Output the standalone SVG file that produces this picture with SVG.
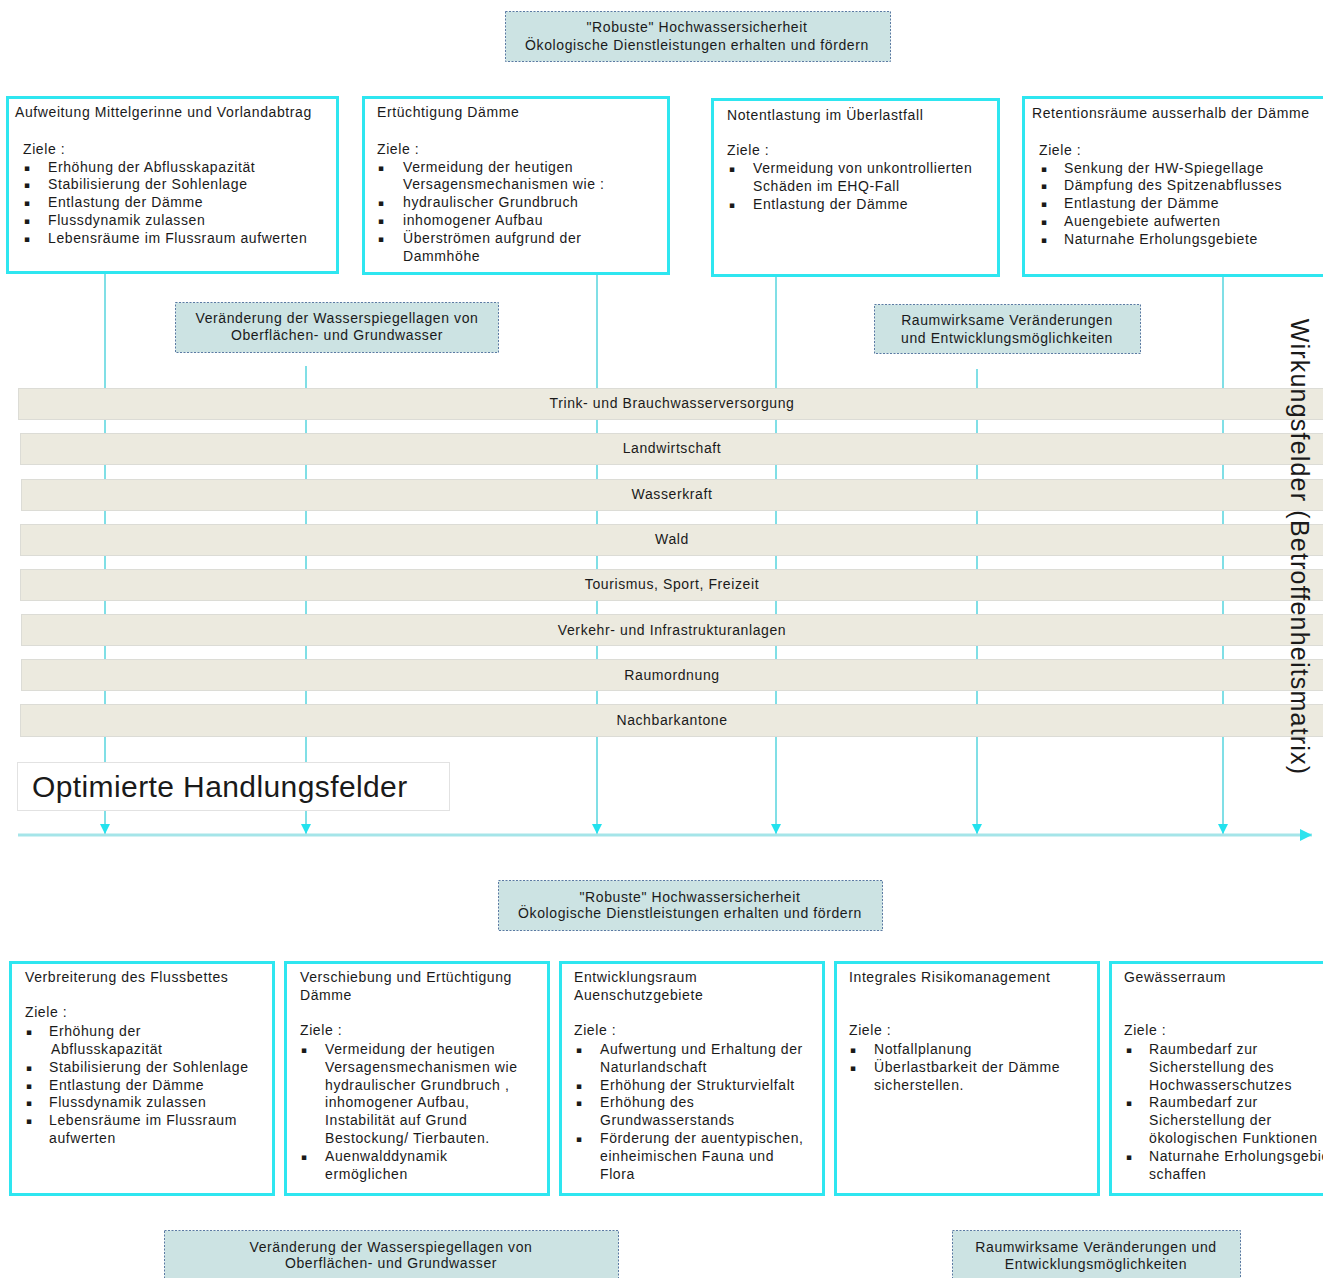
<svg xmlns="http://www.w3.org/2000/svg" width="1323" height="1278" viewBox="0 0 1323 1278">
<style>
.t{font-family:"Liberation Sans",Arial,sans-serif;font-size:14px;letter-spacing:0.6px;fill:#1a1a1a}
.c{text-anchor:middle}
.b{font-family:"DejaVu Sans","Liberation Sans",sans-serif;font-size:9px;fill:#1a1a1a}
.box{fill:#fff;stroke:#2ee6f0;stroke-width:3}
.lbl{fill:#cce3e3;stroke:#5b7aa3;stroke-width:1;stroke-dasharray:2 1.5}
.row{fill:#eceadf;stroke:#dcdcd6;stroke-width:1}
.conn{stroke:#80dfe6;stroke-width:2;fill:none}
</style>
<defs>
<marker id="ah" markerUnits="userSpaceOnUse" markerWidth="12" markerHeight="12" refX="10" refY="5" orient="auto"><path d="M0,0 L10,5 L0,10 z" fill="#22e2ee"/></marker>
<marker id="ah2" markerUnits="userSpaceOnUse" markerWidth="14" markerHeight="14" refX="12" refY="6" orient="auto"><path d="M0,0 L12,6 L0,12 z" fill="#2de3ee"/></marker>
</defs>
<rect width="1323" height="1278" fill="#fff"/>

<g id="connectors">
<line class="conn" x1="105" y1="273" x2="105" y2="834" marker-end="url(#ah)"/>
<line class="conn" x1="306" y1="366" x2="306" y2="834" marker-end="url(#ah)"/>
<line class="conn" x1="597" y1="273" x2="597" y2="834" marker-end="url(#ah)"/>
<line class="conn" x1="776" y1="275" x2="776" y2="834" marker-end="url(#ah)"/>
<line class="conn" x1="977" y1="369" x2="977" y2="834" marker-end="url(#ah)"/>
<line class="conn" x1="1223" y1="275" x2="1223" y2="834" marker-end="url(#ah)"/>
<line x1="18" y1="835" x2="1312" y2="835" stroke="#a5e5e9" stroke-width="3" marker-end="url(#ah2)"/>
</g>

<g id="goal-top">
<rect class="lbl" x="505.5" y="11.5" width="385" height="50"/>
<text class="t c" x="697" y="32">"Robuste" Hochwassersicherheit</text>
<text class="t c" x="697" y="50">Ökologische Dienstleistungen erhalten und fördern</text>
</g>

<g id="box-aufweitung">
<rect class="box" x="7.5" y="97.5" width="330" height="175"/>
<text class="t" x="15" y="117">Aufweitung Mittelgerinne und Vorlandabtrag</text>
<text class="t" x="23" y="154">Ziele :</text>
<text class="b" x="24" y="171">▪</text><text class="t" x="48" y="172">Erhöhung der Abflusskapazität</text>
<text class="b" x="24" y="188">▪</text><text class="t" x="48" y="189">Stabilisierung der Sohlenlage</text>
<text class="b" x="24" y="206">▪</text><text class="t" x="48" y="207">Entlastung der Dämme</text>
<text class="b" x="24" y="224">▪</text><text class="t" x="48" y="225">Flussdynamik zulassen</text>
<text class="b" x="24" y="242">▪</text><text class="t" x="48" y="243">Lebensräume im Flussraum aufwerten</text>
</g>

<g id="box-ertuechtigung">
<rect class="box" x="363.5" y="97.5" width="305" height="176"/>
<text class="t" x="377" y="117">Ertüchtigung Dämme</text>
<text class="t" x="377" y="154">Ziele :</text>
<text class="b" x="378" y="171">▪</text><text class="t" x="403" y="172">Vermeidung der heutigen</text>
<text class="t" x="403" y="189">Versagensmechanismen wie :</text>
<text class="b" x="378" y="206">▪</text><text class="t" x="403" y="207">hydraulischer Grundbruch</text>
<text class="b" x="378" y="224">▪</text><text class="t" x="403" y="225">inhomogener Aufbau</text>
<text class="b" x="378" y="242">▪</text><text class="t" x="403" y="243">Überströmen aufgrund der</text>
<text class="t" x="403" y="261">Dammhöhe</text>
</g>

<g id="box-notentlastung">
<rect class="box" x="712.5" y="99.5" width="286" height="176"/>
<text class="t" x="727" y="120">Notentlastung im Überlastfall</text>
<text class="t" x="727" y="155">Ziele :</text>
<text class="b" x="729" y="172">▪</text><text class="t" x="753" y="173">Vermeidung von unkontrollierten</text>
<text class="t" x="753" y="191">Schäden im EHQ-Fall</text>
<text class="b" x="729" y="208">▪</text><text class="t" x="753" y="209">Entlastung der Dämme</text>
</g>

<g id="box-retention">
<rect class="box" x="1023.5" y="97.5" width="310" height="178"/>
<text class="t" x="1032" y="118">Retentionsräume ausserhalb der Dämme</text>
<text class="t" x="1039" y="155">Ziele :</text>
<text class="b" x="1041" y="172">▪</text><text class="t" x="1064" y="173">Senkung der HW-Spiegellage</text>
<text class="b" x="1041" y="189">▪</text><text class="t" x="1064" y="190">Dämpfung des Spitzenabflusses</text>
<text class="b" x="1041" y="207">▪</text><text class="t" x="1064" y="208">Entlastung der Dämme</text>
<text class="b" x="1041" y="225">▪</text><text class="t" x="1064" y="226">Auengebiete aufwerten</text>
<text class="b" x="1041" y="243">▪</text><text class="t" x="1064" y="244">Naturnahe Erholungsgebiete</text>
</g>

<g id="label-wasserspiegel-top">
<rect class="lbl" x="175.5" y="302.5" width="323" height="50"/>
<text class="t c" x="337" y="323">Veränderung der Wasserspiegellagen von</text>
<text class="t c" x="337" y="340">Oberflächen- und Grundwasser</text>
</g>

<g id="label-raum-top">
<rect class="lbl" x="874.5" y="304.5" width="266" height="49"/>
<text class="t c" x="1007" y="325">Raumwirksame Veränderungen</text>
<text class="t c" x="1007" y="343">und Entwicklungsmöglichkeiten</text>
</g>

<g id="rows">
<g id="row-trink"><rect class="row" x="18.5" y="388.5" width="1320" height="31"/><text class="t c" x="672" y="408">Trink- und Brauchwasserversorgung</text></g>
<g id="row-landwirtschaft"><rect class="row" x="20.5" y="433.5" width="1320" height="31"/><text class="t c" x="672" y="453">Landwirtschaft</text></g>
<g id="row-wasserkraft"><rect class="row" x="21.5" y="479.5" width="1320" height="31"/><text class="t c" x="672" y="499">Wasserkraft</text></g>
<g id="row-wald"><rect class="row" x="20.5" y="524.5" width="1320" height="31"/><text class="t c" x="672" y="544">Wald</text></g>
<g id="row-tourismus"><rect class="row" x="20.5" y="569.5" width="1320" height="31"/><text class="t c" x="672" y="589">Tourismus, Sport, Freizeit</text></g>
<g id="row-verkehr"><rect class="row" x="21.5" y="614.5" width="1320" height="31"/><text class="t c" x="672" y="635">Verkehr- und Infrastrukturanlagen</text></g>
<g id="row-raumordnung"><rect class="row" x="21.5" y="659.5" width="1320" height="31"/><text class="t c" x="672" y="680">Raumordnung</text></g>
<g id="row-nachbar"><rect class="row" x="20.5" y="704.5" width="1320" height="32"/><text class="t c" x="672" y="725">Nachbarkantone</text></g>
</g>

<g id="title-optimiert">
<rect x="17.5" y="762.5" width="432" height="48" fill="#fff" stroke="#e2e2e2"/>
<text x="32" y="797" font-family="Liberation Sans, Arial, sans-serif" font-size="30" letter-spacing="0.4" fill="#1a1a1a">Optimierte Handlungsfelder</text>
</g>

<g id="title-wirkungsfelder">
<text transform="translate(1291,547) rotate(90)" text-anchor="middle" font-family="Liberation Sans, Arial, sans-serif" font-size="25" letter-spacing="1.2" fill="#1a1a1a">Wirkungsfelder (Betroffenheitsmatrix)</text>
</g>

<g id="goal-bottom">
<rect class="lbl" x="498.5" y="880.5" width="384" height="50"/>
<text class="t c" x="690" y="902">"Robuste" Hochwassersicherheit</text>
<text class="t c" x="690" y="918">Ökologische Dienstleistungen erhalten und fördern</text>
</g>

<g id="box-verbreiterung">
<rect class="box" x="10.5" y="962.5" width="263" height="232"/>
<text class="t" x="25" y="982">Verbreiterung des Flussbettes</text>
<text class="t" x="25" y="1017">Ziele :</text>
<text class="b" x="26" y="1035">▪</text><text class="t" x="49" y="1036">Erhöhung der</text>
<text class="t" x="51" y="1054">Abflusskapazität</text>
<text class="b" x="26" y="1071">▪</text><text class="t" x="49" y="1072">Stabilisierung der Sohlenlage</text>
<text class="b" x="26" y="1089">▪</text><text class="t" x="49" y="1090">Entlastung der Dämme</text>
<text class="b" x="26" y="1106">▪</text><text class="t" x="49" y="1107">Flussdynamik zulassen</text>
<text class="b" x="26" y="1124">▪</text><text class="t" x="49" y="1125">Lebensräume im Flussraum</text>
<text class="t" x="49" y="1143">aufwerten</text>
</g>

<g id="box-verschiebung">
<rect class="box" x="285.5" y="962.5" width="263" height="232"/>
<text class="t" x="300" y="982">Verschiebung und Ertüchtigung</text>
<text class="t" x="300" y="1000">Dämme</text>
<text class="t" x="300" y="1035">Ziele :</text>
<text class="b" x="301" y="1053">▪</text><text class="t" x="325" y="1054">Vermeidung der heutigen</text>
<text class="t" x="325" y="1072">Versagensmechanismen wie</text>
<text class="t" x="325" y="1090">hydraulischer Grundbruch ,</text>
<text class="t" x="325" y="1107">inhomogener Aufbau,</text>
<text class="t" x="325" y="1125">Instabilität auf Grund</text>
<text class="t" x="325" y="1143">Bestockung/ Tierbauten.</text>
<text class="b" x="301" y="1160">▪</text><text class="t" x="325" y="1161">Auenwalddynamik</text>
<text class="t" x="325" y="1179">ermöglichen</text>
</g>

<g id="box-entwicklungsraum">
<rect class="box" x="560.5" y="962.5" width="263" height="232"/>
<text class="t" x="574" y="982">Entwicklungsraum</text>
<text class="t" x="574" y="1000">Auenschutzgebiete</text>
<text class="t" x="574" y="1035">Ziele :</text>
<text class="b" x="576" y="1053">▪</text><text class="t" x="600" y="1054">Aufwertung und Erhaltung der</text>
<text class="t" x="600" y="1072">Naturlandschaft</text>
<text class="b" x="576" y="1089">▪</text><text class="t" x="600" y="1090">Erhöhung der Strukturvielfalt</text>
<text class="b" x="576" y="1106">▪</text><text class="t" x="600" y="1107">Erhöhung des</text>
<text class="t" x="600" y="1125">Grundwasserstands</text>
<text class="b" x="576" y="1142">▪</text><text class="t" x="600" y="1143">Förderung der auentypischen,</text>
<text class="t" x="600" y="1161">einheimischen Fauna und</text>
<text class="t" x="600" y="1179">Flora</text>
</g>

<g id="box-risikomanagement">
<rect class="box" x="835.5" y="962.5" width="263" height="232"/>
<text class="t" x="849" y="982">Integrales Risikomanagement</text>
<text class="t" x="849" y="1035">Ziele :</text>
<text class="b" x="850" y="1053">▪</text><text class="t" x="874" y="1054">Notfallplanung</text>
<text class="b" x="850" y="1071">▪</text><text class="t" x="874" y="1072">Überlastbarkeit der Dämme</text>
<text class="t" x="874" y="1090">sicherstellen.</text>
</g>

<g id="box-gewaesserraum">
<rect class="box" x="1110.5" y="962.5" width="240" height="232"/>
<text class="t" x="1124" y="982">Gewässerraum</text>
<text class="t" x="1124" y="1035">Ziele :</text>
<text class="b" x="1126" y="1053">▪</text><text class="t" x="1149" y="1054">Raumbedarf zur</text>
<text class="t" x="1149" y="1072">Sicherstellung des</text>
<text class="t" x="1149" y="1090">Hochwasserschutzes</text>
<text class="b" x="1126" y="1106">▪</text><text class="t" x="1149" y="1107">Raumbedarf zur</text>
<text class="t" x="1149" y="1125">Sicherstellung der</text>
<text class="t" x="1149" y="1143">ökologischen Funktionen</text>
<text class="b" x="1126" y="1160">▪</text><text class="t" x="1149" y="1161">Naturnahe Erholungsgebiete</text>
<text class="t" x="1149" y="1179">schaffen</text>
</g>

<g id="label-wasserspiegel-bottom">
<rect class="lbl" x="164.5" y="1230.5" width="454" height="60"/>
<text class="t c" x="391" y="1252">Veränderung der Wasserspiegellagen von</text>
<text class="t c" x="391" y="1268">Oberflächen- und Grundwasser</text>
</g>

<g id="label-raum-bottom">
<rect class="lbl" x="952.5" y="1230.5" width="288" height="60"/>
<text class="t c" x="1096" y="1252">Raumwirksame Veränderungen und</text>
<text class="t c" x="1096" y="1269">Entwicklungsmöglichkeiten</text>
</g>
</svg>
